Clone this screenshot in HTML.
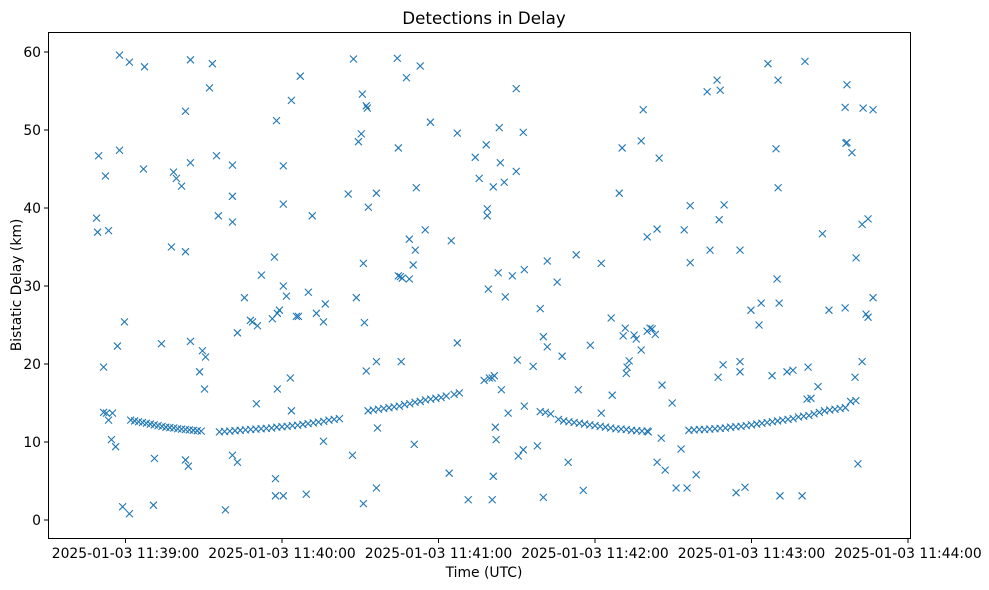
<!DOCTYPE html>
<html><head><meta charset="utf-8"><style>
body{margin:0;background:#fff}
svg{display:block;font-family:"DejaVu Sans","Liberation Sans",sans-serif}
</style></head><body>
<svg id="chart" width="989" height="590" xmlns="http://www.w3.org/2000/svg">
<rect width="989" height="590" fill="#fff"/>
<text x="484" y="24" font-size="16.7" text-anchor="middle">Detections in Delay</text>
<g id="plot"></g>
<rect x="48.5" y="32.5" width="862" height="506" fill="none" stroke="#000" stroke-width="1"/>
<g id="xaxis"></g>
<g id="yaxis"></g>
<text x="484" y="577" font-size="13.9" text-anchor="middle">Time (UTC)</text>
<text x="0" y="0" font-size="13.9" text-anchor="middle" transform="translate(21,285) rotate(-90)">Bistatic Delay (km)</text>
</svg>
<script>
// time in seconds after 11:39:00, delay in km
const curveTimes = [2,3.5,5,6.5,8,9.5,11,12.5,14,15.5,17,18.5,20,21.5,23,24.5,26,27.5,29,
36,38,40,42,44,46,48,50,52,54,56,58,60,62,64,66,68,70,72,74,76,78,80,82,
93,95,97,99,101,103,105,107,109,111,113,115,117,119,121,123,126,128,
159,161,163,166,168,170,172,174,176,178,180,182,184,186,188,190,192,194,196,198,200,
216,218,220,222,224,226,228,230,232,234,236,238,240,242,244,246,248,250,252,254,256,258,260,262,264,266,268,270,272,274,276,278,280];
const curveDelays = [12.8,12.7,12.6,12.5,12.4,12.3,12.2,12.1,12.0,11.9,11.85,11.8,11.7,11.65,11.6,11.55,11.5,11.45,11.4,
11.3,11.35,11.4,11.45,11.5,11.55,11.6,11.65,11.7,11.75,11.8,11.9,11.95,12.0,12.1,12.15,12.25,12.35,12.45,12.55,12.65,12.8,12.9,13.0,
14.0,14.1,14.2,14.3,14.4,14.5,14.6,14.8,14.9,15.1,15.2,15.4,15.5,15.6,15.7,15.9,16.1,16.3,
13.9,13.8,13.6,12.9,12.7,12.6,12.5,12.4,12.3,12.2,12.1,12.0,11.9,11.8,11.7,11.65,11.6,11.5,11.45,11.4,11.4,
11.5,11.55,11.6,11.6,11.65,11.7,11.75,11.8,11.9,11.95,12.0,12.1,12.2,12.3,12.4,12.5,12.6,12.7,12.8,12.9,13.0,13.2,13.3,13.4,13.6,13.8,14.0,14.1,14.2,14.3,14.4,15.2,15.3];
const scatterTimes = [-11.1,-10.3,-10.7,-7.7,-6.5,-8.4,-8.4,-7.3,-5.0,-6.5,-5.4,-3.8,-3.1,-2.3,-2.3,-0.4,-1.1,1.5,1.5,7.3,6.9,11.1,10.7,13.8,17.6,18.4,19.5,21.5,23.0,23.0,24.9,24.9,24.9,23.0,24.1,28.4,29.5,30.7,30.3,32.2,33.3,34.9,35.6,38.3,41.0,41.0,41.0,41.0,42.9,42.9,45.6,47.9,48.7,50.6,52.1,50.2,56.3,57.9,58.2,59.0,60.5,60.5,60.5,57.1,58.2,57.5,57.5,60.5,61.7,63.2,63.6,63.6,65.5,66.3,67.0,69.3,70.1,71.6,73.2,75.9,76.6,75.9,87.0,85.4,87.4,88.5,89.3,90.4,90.8,91.2,91.6,92.3,92.7,92.3,91.2,93.1,96.2,96.2,96.6,96.2,104.2,104.6,104.6,105.4,106.1,108.8,105.7,107.7,108.8,110.3,111.1,111.5,113.0,110.7,114.9,116.9,124.9,124.1,127.2,127.2,131.4,134.1,135.6,137.5,138.3,138.7,138.7,139.1,139.5,140.6,141.0,141.4,141.0,140.6,141.8,142.1,142.9,143.3,143.7,144.1,145.2,145.6,146.7,148.3,149.8,149.8,150.2,150.6,152.5,152.9,152.5,152.9,156.3,157.9,159.0,160.2,160.2,161.7,161.7,165.5,167.4,169.7,172.8,173.6,175.5,178.2,182.4,182.4,186.2,186.6,189.3,190.4,190.8,191.6,192.0,192.3,193.1,195.0,195.8,197.7,198.5,197.7,200.0,200.0,201.1,203.1,200.4,201.9,203.8,204.6,203.8,205.7,205.4,206.9,209.6,211.1,214.2,215.3,213.0,216.5,216.5,218.8,223.0,224.1,226.8,227.2,228.0,227.6,229.5,229.1,234.1,235.6,235.6,235.6,237.5,239.8,242.9,243.7,246.3,247.9,249.4,250.2,250.2,249.8,250.6,250.9,253.6,255.9,259.4,260.5,261.7,261.3,262.8,265.5,267.2,269.7,275.9,275.9,276.2,276.6,276.6,278.5,279.7,280.1,280.8,282.4,282.4,282.8,283.9,284.7,284.7,286.6,286.6];
const scatterDelays = [38.7,46.7,36.9,44.1,37.1,19.6,13.8,13.7,13.7,12.8,10.3,9.4,22.3,47.4,59.6,25.4,1.7,58.7,0.8,58.1,45.0,7.9,1.9,22.6,35.0,44.6,43.8,42.8,34.4,52.4,45.8,59.0,22.9,7.7,6.9,19.0,21.7,20.9,16.8,55.4,58.5,46.7,39.0,1.3,45.5,41.5,38.2,8.3,7.4,24.0,28.5,25.6,25.4,24.9,31.4,14.9,25.8,51.2,26.5,26.9,30.0,45.4,40.5,33.7,16.8,5.3,3.1,3.1,28.7,18.2,53.8,14.0,26.1,26.1,56.9,3.3,29.2,39.0,26.5,25.4,27.7,10.1,8.3,41.8,59.1,28.5,48.5,49.5,54.6,32.9,25.3,53.1,52.8,19.1,2.1,40.1,41.9,20.3,11.8,4.1,59.2,47.7,31.3,31.2,31.0,30.9,20.3,56.7,36.0,32.7,34.6,42.6,58.2,9.7,37.2,51.0,35.8,6.0,22.7,49.6,2.6,46.5,43.8,17.9,48.1,39.0,39.9,29.6,18.2,18.2,42.7,18.5,5.6,2.6,11.9,10.3,31.7,50.3,45.8,16.7,43.3,28.6,13.7,31.3,55.3,44.7,20.5,8.2,9.0,32.1,49.7,14.6,19.7,9.5,27.1,23.5,2.9,22.2,33.2,30.5,21.0,7.4,34.0,16.7,3.8,22.4,13.7,32.9,25.9,16.0,41.9,47.7,23.6,24.6,18.8,19.6,20.4,23.7,23.2,21.8,52.6,48.6,36.3,24.2,24.6,23.8,11.3,24.5,7.4,46.4,37.3,17.3,10.5,6.4,15.0,4.1,37.2,4.1,9.1,33.0,40.3,5.8,54.9,34.6,56.4,18.3,55.1,38.5,40.4,19.9,3.5,20.3,34.6,19.0,4.2,26.9,25.0,27.8,58.5,18.5,47.6,56.4,42.6,30.9,27.8,3.1,19.0,19.2,3.1,58.8,19.6,15.5,15.6,17.1,36.7,26.9,52.9,27.2,48.3,48.4,55.8,47.1,18.3,33.6,7.2,20.3,37.9,52.8,26.4,38.6,26.0,52.6,28.5];
const xTickSecs = [0,60,120,180,240,300];
const xTickLabels = ["2025-01-03 11:39:00","2025-01-03 11:40:00","2025-01-03 11:41:00","2025-01-03 11:42:00","2025-01-03 11:43:00","2025-01-03 11:44:00"];
const yTicks = [0,10,20,30,40,50,60];

const NS="http://www.w3.org/2000/svg";
function xs(t){return 125.5 + t*(782.5/300);}
function ys(v){return 520 - v*7.8;}
function mk(tag,attrs,parent){const e=document.createElementNS(NS,tag);for(const k in attrs)e.setAttribute(k,attrs[k]);parent.appendChild(e);return e;}
const plot=document.getElementById('plot');
function marker(t,v){
  const cx=xs(t),cy=ys(v),s=3.5;
  const g=mk('g',{},plot);
  
  
  mk('path',{d:`M${cx-s},${cy-s}L${cx+s},${cy+s}M${cx-s},${cy+s}L${cx+s},${cy-s}`,stroke:'#1f77b4','stroke-width':1.1,fill:'none'},g);
}
curveTimes.forEach((t,i)=>marker(t,curveDelays[i]));
scatterTimes.forEach((t,i)=>marker(t,scatterDelays[i]));
const xa=document.getElementById('xaxis');
xTickSecs.forEach((t,i)=>{
  const x=xs(t);
  const l=mk('line',{x1:x,x2:x,y1:538.5,y2:543,stroke:'#000'},xa);
  
  
  const tx=mk('text',{x:x,y:558,'font-size':13.9,'text-anchor':'middle'},xa);
  tx.textContent=xTickLabels[i];
  
  
});
const ya=document.getElementById('yaxis');
yTicks.forEach(v=>{
  const y=ys(v);
  const l=mk('line',{x1:44,x2:48.5,y1:y,y2:y,stroke:'#000'},ya);
  
  
  const tx=mk('text',{x:41,y:y+5,'font-size':13.9,'text-anchor':'end'},ya);
  tx.textContent=String(v);
  
  
});
</script>
</body></html>
